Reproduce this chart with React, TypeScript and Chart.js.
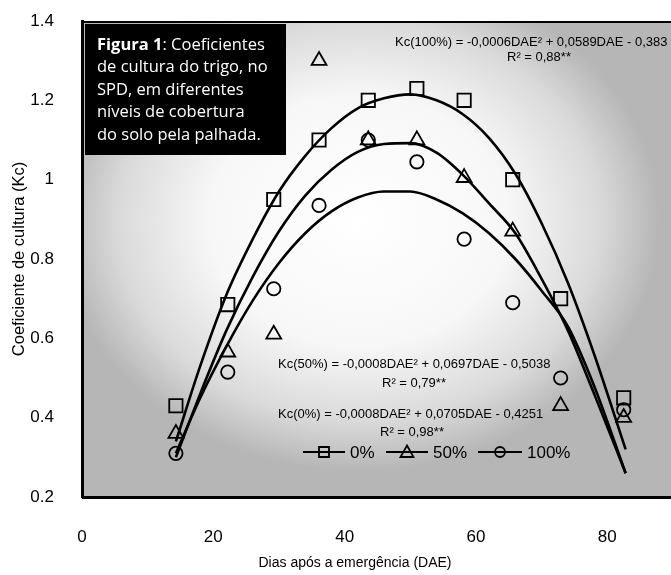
import React, { useEffect, useRef } from "react";
import { Chart, registerables } from "chart.js";

Chart.register(...registerables);

// Observed points (days after emergence, crop coefficient)
const DAE = [14.3, 22.2, 29.2, 36.1, 43.6, 51, 58.2, 65.6, 72.9, 82.5];
const KC_0 = [0.43, 0.685, 0.95, 1.1, 1.2, 1.23, 1.2, 1.0, 0.7, 0.45];
const KC_50 = [0.36, 0.565, 0.61, 1.3, 1.1, 1.1, 1.005, 0.87, 0.43, 0.4];
const KC_100 = [0.31, 0.515, 0.725, 0.935, 1.1, 1.045, 0.85, 0.69, 0.5, 0.42];

// Regression curves
const CURVE_DAE = [14.3, 18, 22, 26, 30, 34, 38, 42, 46, 50, 54, 58, 62, 66, 70, 74, 78, 82.8];
const CURVE_0 = [0.34, 0.53, 0.71, 0.85, 0.97, 1.06, 1.13, 1.18, 1.205, 1.215, 1.2, 1.165, 1.105, 1.015, 0.89, 0.74, 0.56, 0.32];
const CURVE_50 = [0.3, 0.46, 0.62, 0.755, 0.87, 0.96, 1.025, 1.07, 1.09, 1.092, 1.068, 1.012, 0.94, 0.865, 0.75, 0.62, 0.46, 0.26];
const CURVE_100 = [0.31, 0.45, 0.58, 0.695, 0.79, 0.865, 0.92, 0.955, 0.97, 0.97, 0.95, 0.915, 0.865, 0.8, 0.72, 0.63, 0.48, 0.26];

const X_TICKS = [0, 20, 40, 60, 80];
const Y_TICKS = [0.2, 0.4, 0.6, 0.8, 1.0, 1.2, 1.4];

const SERIES_LABELS = ["0%", "50%", "100%"];
const X_TITLE = "Dias após a emergência (DAE)";
const Y_TITLE = "Coeficiente de cultura (Kc)";
const BOX_LINES = [
  "de cultura do trigo, no",
  "SPD, em diferentes",
  "níveis de cobertura",
  "do solo pela palhada.",
];
const BOX_BOLD = "Figura 1";
const BOX_FIRST_REST = ": Coeficientes";
const EQ_100 = "Kc(100%) = -0,0006DAE² + 0,0589DAE - 0,383";
const R2_100 = "R² = 0,88**";
const EQ_50 = "Kc(50%) = -0,0008DAE² + 0,0697DAE - 0,5038";
const R2_50 = "R² = 0,79**";
const EQ_0 = "Kc(0%) = -0,0008DAE² + 0,0705DAE - 0,4251";
const R2_0 = "R² = 0,98**";

const pts = (xs: number[], ys: number[]) => xs.map((x, i) => ({ x, y: ys[i] }));

const FONT = '"Liberation Sans", Arial, sans-serif';

const backgroundPlugin = {
  id: "plotBackground",
  beforeDraw(chart: any) {
    const { ctx, chartArea: a } = chart;
    const right = chart.width;
    ctx.save();
    ctx.fillStyle = "#ffffff";
    ctx.fillRect(0, 0, chart.width, chart.height);
    const cx = a.left + (right - a.left) * 0.47;
    const cy = a.top + (a.bottom - a.top) * 0.42;
    const sx = 1.2;
    ctx.translate(cx, cy);
    ctx.scale(sx, 1);
    const g = ctx.createRadialGradient(0, 0, 0, 0, 0, 250);
    g.addColorStop(0, "#ffffff");
    g.addColorStop(0.5, "#f7f7f7");
    g.addColorStop(0.8, "#dadada");
    g.addColorStop(1, "#b6b6b6");
    ctx.fillStyle = g;
    ctx.fillRect((a.left - cx) / sx, a.top - cy, (right - a.left) / sx, a.bottom - a.top);
    ctx.restore();

    // frame lines (top and bottom), extending to the page edge
    ctx.save();
    ctx.strokeStyle = "#000";
    ctx.lineWidth = 2;
    ctx.beginPath();
    ctx.moveTo(a.left, a.top + 1);
    ctx.lineTo(right, a.top + 1);
    ctx.stroke();
    ctx.lineWidth = 3;
    ctx.beginPath();
    ctx.moveTo(a.left, a.bottom + 0.5);
    ctx.lineTo(right, a.bottom + 0.5);
    ctx.stroke();
    ctx.restore();
  },
};

const overlayPlugin = {
  id: "overlay",
  beforeDatasetsDraw(chart: any) {
    const { ctx, chartArea: a } = chart;
    ctx.save();
    // caption box
    ctx.fillStyle = "#000";
    ctx.fillRect(a.left + 3, a.top + 3, 201, 131);
    ctx.fillStyle = "#fff";
    ctx.textBaseline = "middle";
    ctx.textAlign = "left";
    const bx = a.left + 15;
    let by = a.top + 24;
    ctx.font = 'bold 16.5px "Open Sans", sans-serif';
    ctx.fillText(BOX_BOLD, bx, by);
    const w = ctx.measureText(BOX_BOLD).width;
    ctx.font = '16.5px "Open Sans", sans-serif';
    ctx.fillText(BOX_FIRST_REST, bx + w, by);
    BOX_LINES.forEach((t) => {
      by += 22.5;
      ctx.fillText(t, bx, by);
    });
    ctx.restore();
  },
  afterDraw(chart: any) {
    const { ctx } = chart;
    ctx.save();
    ctx.fillStyle = "#000";
    ctx.textBaseline = "middle";
    ctx.textAlign = "left";
    ctx.font = `13px ${FONT}`;
    ctx.fillText(EQ_100, 395, 42);
    ctx.fillText(R2_100, 507, 57);
    ctx.fillText(EQ_50, 278, 364);
    ctx.fillText(R2_50, 382, 383);
    ctx.fillText(EQ_0, 278, 414);
    ctx.fillText(R2_0, 380, 432);

    // legend
    const ly = 452;
    const items = [
      { x0: 303, x1: 345, cx: 324, tx: 350, shape: "square" },
      { x0: 386, x1: 428, cx: 407, tx: 433, shape: "triangle" },
      { x0: 478, x1: 522, cx: 500, tx: 527, shape: "circle" },
    ];
    ctx.strokeStyle = "#000";
    ctx.lineWidth = 1.8;
    items.forEach((it, i) => {
      ctx.beginPath();
      ctx.moveTo(it.x0, ly);
      ctx.lineTo(it.x1, ly);
      ctx.stroke();
      ctx.beginPath();
      if (it.shape === "square") {
        ctx.rect(it.cx - 5, ly - 5, 10, 10);
      } else if (it.shape === "triangle") {
        ctx.moveTo(it.cx, ly - 6.5);
        ctx.lineTo(it.cx + 6.5, ly + 5);
        ctx.lineTo(it.cx - 6.5, ly + 5);
        ctx.closePath();
      } else {
        ctx.arc(it.cx, ly, 5, 0, Math.PI * 2);
      }
      ctx.stroke();
      ctx.fillStyle = "#000";
      ctx.font = `17px ${FONT}`;
      ctx.fillText(SERIES_LABELS[i], it.tx, ly + 1);
    });

    // x-axis title
    ctx.fillStyle = "#000";
    ctx.textAlign = "center";
    ctx.font = `14px ${FONT}`;
    ctx.fillText(X_TITLE, 355, 563);
    ctx.restore();
  },
};

const markerBase = {
  showLine: false,
  borderColor: "#000",
  backgroundColor: "rgba(0,0,0,0)",
  pointBorderWidth: 1.8,
  pointBackgroundColor: "rgba(0,0,0,0)",
  pointBorderColor: "#000",
};

const curveBase = {
  showLine: true,
  borderColor: "#000",
  borderWidth: 2.6,
  pointRadius: 0,
  cubicInterpolationMode: "monotone" as const,
  fill: false,
};

export default function App() {
  const ref = useRef<HTMLCanvasElement | null>(null);

  useEffect(() => {
    document.body.style.margin = "0";
    const canvas = ref.current;
    if (!canvas) return;
    const chart = new Chart(canvas, {
      type: "scatter",
      data: {
        datasets: [
          { ...curveBase, label: "curve 0%", data: pts(CURVE_DAE, CURVE_0) },
          { ...curveBase, label: "curve 50%", data: pts(CURVE_DAE, CURVE_50) },
          { ...curveBase, label: "curve 100%", data: pts(CURVE_DAE, CURVE_100) },
          { ...markerBase, label: SERIES_LABELS[0], data: pts(DAE, KC_0), pointStyle: "rect", pointRadius: 9.4 },
          { ...markerBase, label: SERIES_LABELS[1], data: pts(DAE, KC_50), pointStyle: "triangle", pointRadius: 8.6 },
          { ...markerBase, label: SERIES_LABELS[2], data: pts(DAE, KC_100), pointStyle: "circle", pointRadius: 6.7 },
        ] as any,
      },
      options: {
        responsive: false,
        animation: false,
        devicePixelRatio: 1,
        layout: { padding: { top: 21, left: 0, right: 0, bottom: 0 } },
        plugins: {
          legend: { display: false },
          tooltip: { enabled: false },
        },
        scales: {
          x: {
            type: "linear",
            min: 0,
            max: 88,
            afterBuildTicks: (s: any) => {
              s.ticks = X_TICKS.map((v) => ({ value: v }));
            },
            afterFit: (s: any) => {
              s.height = 78;
              s.paddingRight = 0;
              s.paddingLeft = 0;
            },
            grid: { display: false, drawTicks: false },
            border: { display: false },
            ticks: {
              color: "#000",
              padding: 30,
              maxRotation: 0,
              font: { family: FONT, size: 17 },
            },
          },
          y: {
            type: "linear",
            min: 0.2,
            max: 1.4,
            afterBuildTicks: (s: any) => {
              s.ticks = Y_TICKS.map((v) => ({ value: v }));
            },
            afterFit: (s: any) => {
              s.width = 82;
              s.paddingTop = 0;
              s.paddingBottom = 0;
            },
            grid: { display: false, drawTicks: false },
            border: { display: true, color: "#000", width: 3 },
            ticks: {
              color: "#000",
              padding: 28,
              font: { family: FONT, size: 17 },
              callback: (v: any) => String(Number(Number(v).toFixed(1))),
            },
            title: {
              display: true,
              text: Y_TITLE,
              color: "#000",
              font: { family: FONT, size: 16.5 },
              padding: { top: 10, bottom: 0 },
            },
          },
        },
      },
      plugins: [backgroundPlugin, overlayPlugin],
    });
    return () => chart.destroy();
  }, []);

  return (
    <div style={{ width: 671, height: 575 }}>
      <canvas ref={ref} width={671} height={575} style={{ display: "block" }} />
    </div>
  );
}
